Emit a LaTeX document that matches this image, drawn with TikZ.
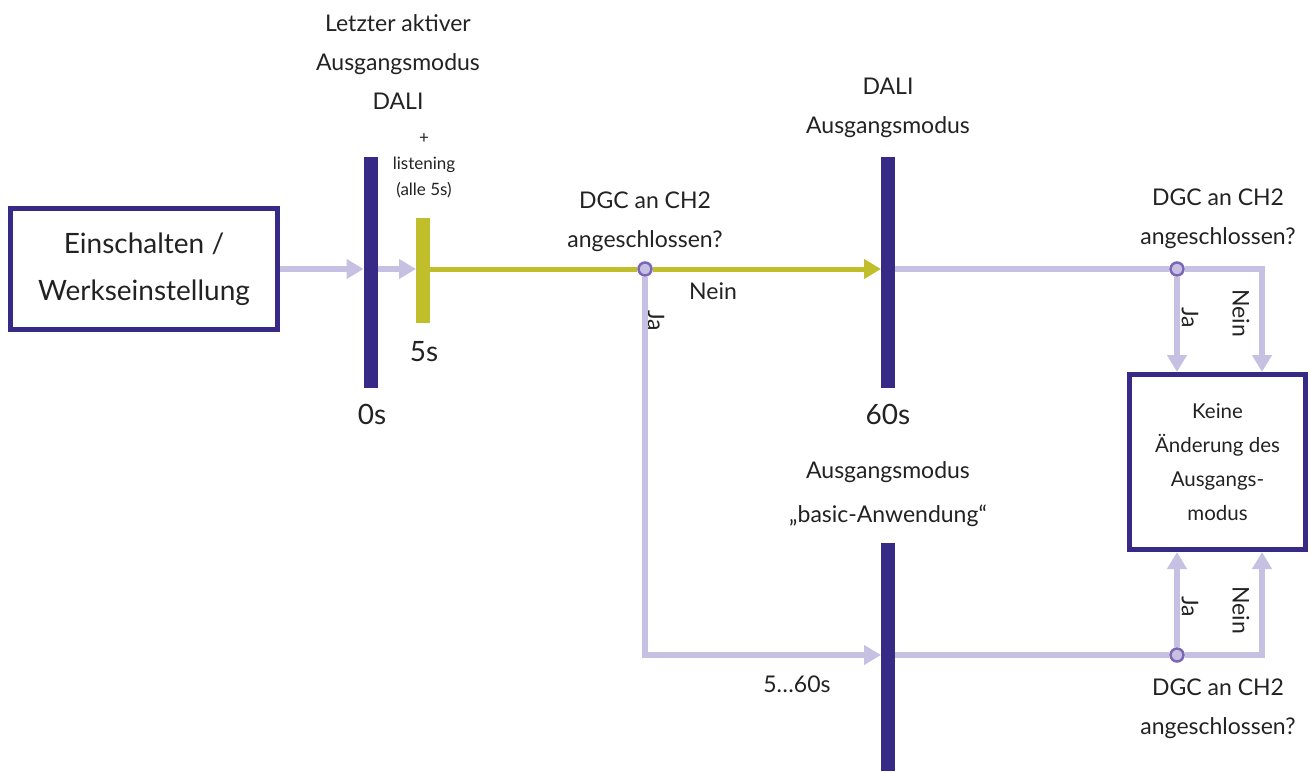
\documentclass[tikz,border=0pt]{standalone}
\usepackage{fontspec}
\setmainfont{Lato}
\usetikzlibrary{arrows.meta}
\definecolor{dalipurple}{RGB}{55,42,134}
\definecolor{lavender}{RGB}{198,192,227}
\definecolor{olive}{RGB}{193,190,44}
\definecolor{ringpurple}{RGB}{122,104,182}
\definecolor{txt}{RGB}{34,34,34}
\begin{document}
\begin{tikzpicture}[x=1pt, y=-1pt,
    timebar/.style={rectangle, fill=dalipurple, minimum width=14pt, inner sep=0pt, outer sep=0pt},
    yellowbar/.style={rectangle, fill=olive, minimum width=14pt, inner sep=0pt, outer sep=0pt},
    statebox/.style={rectangle, draw=dalipurple, line width=5pt, align=center, inner sep=0pt, text=txt},
    junction/.style={circle, draw=ringpurple, fill=lavender, line width=2.5pt, minimum size=13pt, inner sep=0pt},
    flowline/.style={draw=lavender, line width=6pt},
    flow/.style={flowline, -{Triangle[length=17pt, width=19pt]}},
    liveline/.style={draw=olive, line width=5pt},
    live/.style={liveline, -{Triangle[length=17pt, width=19pt]}},
    caption/.style={text=txt, align=center, inner sep=0pt},
    big/.style={font=\fontsize{28}{47}\selectfont},
    mid/.style={font=\fontsize{23}{39}\selectfont},
    small/.style={font=\fontsize{17}{26}\selectfont},
  ]
    \useasboundingbox (0, 0) rectangle (1311, 771);

    % Nodes
    \node[statebox, big, minimum width=267pt, minimum height=121pt] (start) at (144, 269) {Einschalten /\\Werkseinstellung};
    \node[timebar, minimum height=231pt] (bar0) at (370.5, 272.5) {};
    \node[yellowbar, minimum height=105pt] (bar5) at (423, 270.5) {};
    \node[timebar, minimum height=231pt] (dali) at (888, 272.5) {};
    \node[timebar, minimum height=228pt] (basic) at (888, 657) {};
    \node[statebox, font=\fontsize{20.5}{34}\selectfont, minimum width=176pt, minimum height=175pt] (keep) at (1217.5, 462) {Keine\\Änderung des\\Ausgangs-\\modus};

    \node[junction] (q1) at (645, 269) {};
    \node[junction] (q2) at (1177, 269) {};
    \node[junction] (q3) at (1177, 655) {};
    \coordinate (c1) at (645, 655);
    \coordinate (k1) at (1262, 269);
    \coordinate (k2) at (1262, 655);

    % Texts
    \node[caption, mid] (lastmode) at (398, 62) {Letzter aktiver\\Ausgangsmodus\\DALI};
    \node[caption, small] (listen) at (424, 166) {+\\listening\\(alle 5s)};
    \node[caption, big] (t0) at (372, 414) {0s};
    \node[caption, big] (t5) at (424, 352) {5s};
    \node[caption, big] (t60) at (888, 414) {60s};
    \node[caption, mid] (dalimode) at (888, 108) {DALI\\Ausgangsmodus};
    \node[caption, mid, font=\fontsize{23}{44}\selectfont] (basicmode) at (888, 494) {Ausgangsmodus\\„basic-Anwendung“};
    \node[caption, mid] (q1text) at (645, 222) {DGC an CH2\\angeschlossen?};
    \node[caption, mid] (q2text) at (1218, 219) {DGC an CH2\\angeschlossen?};
    \node[caption, mid] (q3text) at (1218, 709) {DGC an CH2\\angeschlossen?};
    \node[caption, mid] (no1) at (713, 291) {Nein};
    \node[caption, mid] (range) at (797, 684) {5…60s};
    \node[caption, mid, rotate=-90] (yes1) at (656, 321) {Ja};
    \node[caption, mid, rotate=-90] (yes2) at (1190, 318) {Ja};
    \node[caption, mid, rotate=-90] (no2) at (1241, 313) {Nein};
    \node[caption, mid, rotate=-90] (yes3) at (1190, 607) {Ja};
    \node[caption, mid, rotate=-90] (no3) at (1241, 610) {Nein};

    % Connectors
    \draw[flow] (start.east) -- (start.east -| bar0.west);
    \draw[flow] (start.east -| bar0.east) -- (start.east -| bar5.west);
    \draw[liveline] (bar5.east |- q1) -- (q1);
    \draw[live] (q1) -- (q1 -| dali.west);
    \draw[flow] (q1) -- (c1) -- (c1 -| basic.west);

    \draw[flowline] (dali.east |- q2) -- (q2);
    \draw[flow] (q2) -- (q2 |- keep.north);
    \draw[flow] (q2) -- (k1) -- (k1 |- keep.north);

    \draw[flowline] (basic.east |- q3) -- (q3);
    \draw[flow] (q3) -- (q3 |- keep.south);
    \draw[flow] (q3) -- (k2) -- (k2 |- keep.south);
  \end{tikzpicture}
\end{document}
